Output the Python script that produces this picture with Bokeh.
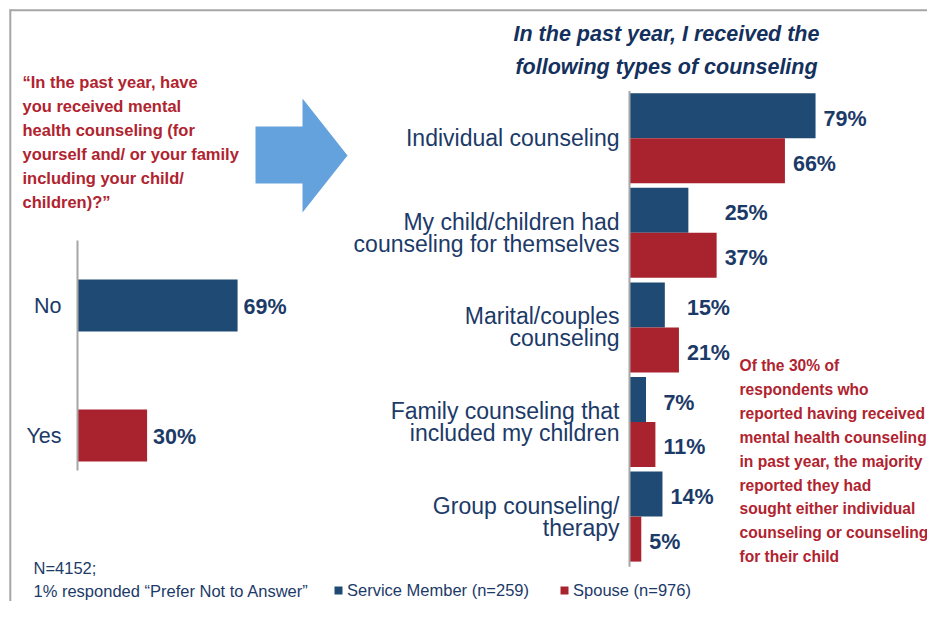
from bokeh.plotting import figure
from bokeh.models import Range1d, ColumnDataSource, Legend, LegendItem
from bokeh.core.properties import value
from bokeh.embed import file_html
from bokeh.resources import INLINE

# ---------------- data ----------------
answers = ["No", "Yes"]
answer_pct = [69, 30]

counsel_types = [
    "Individual counseling",
    "My child/children had\ncounseling for themselves",
    "Marital/couples\ncounseling",
    "Family counseling that\nincluded my children",
    "Group counseling/\ntherapy",
]
service_member = [79, 25, 15, 7, 14]
spouse = [66, 37, 21, 11, 5]
series_names = ["Service Member (n=259)", "Spouse (n=976)"]

question_lines = [
    "\u201cIn the past year, have",
    "you received mental",
    "health counseling (for",
    "yourself and/ or your family",
    "including your child/",
    "children)?\u201d",
]
title_lines = ["In the past year, I received the", "following types of counseling"]
note_lines = [
    "Of the 30% of",
    "respondents who",
    "reported having received",
    "mental health counseling",
    "in past year, the majority",
    "reported they had",
    "sought either  individual",
    "counseling or counseling",
    "for their child",
]
footer_lines = ["N=4152;", "1% responded \u201cPrefer Not to Answer\u201d"]

# ---------------- style ----------------
BLUE = "#1F4A73"
RED = "#A9232F"
NAVY = "#1C3A68"
TITLE_NAVY = "#14305C"
TEXT_RED = "#B0232F"
ARROW = "#64A2DD"
GRAY = "#A6A6A6"
SANS = "Liberation Sans"

W, H = 927, 601

p = figure(width=W, height=H, x_range=Range1d(0, W), y_range=Range1d(H, 0),
           x_axis_type=None, y_axis_type=None, output_backend="svg",
           toolbar_location=None, min_border=0)
p.grid.visible = False
p.outline_line_color = None
p.background_fill_color = "white"
p.border_fill_color = "white"

# scales for the two charts (value -> pixel mapping via extra ranges)
L_X0, L_PPU, L_Y0, L_PITCH = 77, 2.32, 305, 130.0
R_X0, R_PPU, R_Y0, R_PITCH = 629, 2.355, 137.7, 94.6
p.extra_x_ranges = {
    "left": Range1d(-L_X0 / L_PPU, (W - L_X0) / L_PPU),
    "right": Range1d(-R_X0 / R_PPU, (W - R_X0) / R_PPU),
}
p.extra_y_ranges = {
    "left": Range1d((H - L_Y0) / L_PITCH, -L_Y0 / L_PITCH),
    "right": Range1d((H - R_Y0) / R_PITCH, -R_Y0 / R_PITCH),
}

# frame border lines (top and left)
p.segment(x0=[9], y0=[9.8], x1=[W], y1=[9.8], line_color=GRAY, line_width=2)
p.segment(x0=[9.8], y0=[9], x1=[9.8], y1=[H], line_color=GRAY, line_width=2)

# ---------------- question text ----------------
p.text(x=[22] * len(question_lines), y=[81.7 + 24 * i for i in range(len(question_lines))],
       text=question_lines, text_font=value(SANS), text_font_style="bold",
       text_font_size="16.5px", text_color=TEXT_RED, text_baseline="middle", text_align="left")

# ---------------- arrow ----------------
arrow_x = [255, 302, 302, 347, 302, 302, 255]
arrow_y = [126, 126, 98, 155, 212, 183, 183]
p.patch(x=arrow_x, y=arrow_y, fill_color=ARROW, line_color=None)

# ---------------- left chart ----------------
lsrc = ColumnDataSource(dict(
    y=list(range(len(answers))), pct=answer_pct, cat=answers,
    label=[f"{v}%" for v in answer_pct], color=[BLUE, RED]))
p.hbar(y="y", left=0, right="pct", height=0.4, fill_color="color", line_color=None,
       source=lsrc, x_range_name="left", y_range_name="left")
p.segment(x0=[0], y0=[-0.5], x1=[0], y1=[1.27], line_color=GRAY, line_width=2,
          x_range_name="left", y_range_name="left")
p.text(x=0, y="y", text="cat", x_offset=-16, text_align="right", text_baseline="middle",
       text_font=value(SANS), text_font_size="21.5px", text_color=NAVY,
       source=lsrc, x_range_name="left", y_range_name="left")
p.text(x="pct", y="y", text="label", x_offset=6, y_offset=1, text_align="left", text_baseline="middle",
       text_font=value(SANS), text_font_style="bold", text_font_size="21.5px", text_color=NAVY,
       source=lsrc, x_range_name="left", y_range_name="left")

# ---------------- right chart ----------------
p.text(x=[666] * 2, y=[33, 66], text=title_lines, text_font=value(SANS),
       text_font_style="bold italic", text_font_size="21.5px", text_color=TITLE_NAVY,
       text_align="center", text_baseline="middle")

DODGE, BAR_H = 0.2378, 0.4757
n = len(counsel_types)
bsrc = ColumnDataSource(dict(
    y=[i - DODGE for i in range(n)], v=service_member,
    lx=[max(a, b) for a, b in zip(service_member, spouse)],
    label=[f"{v}%" for v in service_member]))
rsrc = ColumnDataSource(dict(
    y=[i + DODGE for i in range(n)], v=spouse, lx=spouse,
    label=[f"{v}%" for v in spouse]))
rb = p.hbar(y="y", left=0, right="v", height=BAR_H, fill_color=BLUE, line_color=None,
            source=bsrc, x_range_name="right", y_range_name="right")
rr = p.hbar(y="y", left=0, right="v", height=BAR_H, fill_color=RED, line_color=None,
            source=rsrc, x_range_name="right", y_range_name="right")
for src in (bsrc, rsrc):
    p.text(x="lx", y="y", text="label", x_offset=8, y_offset=3, text_align="left",
           text_baseline="middle", text_font=value(SANS), text_font_style="bold",
           text_font_size="21.5px", text_color=NAVY,
           source=src, x_range_name="right", y_range_name="right")
p.segment(x0=[0], y0=[-0.5], x1=[0], y1=[4.53], line_color=GRAY, line_width=2,
          x_range_name="right", y_range_name="right")

cy, cyo, ctxt = [], [], []
for i, cat in enumerate(counsel_types):
    parts = cat.split("\n")
    for j, line in enumerate(parts):
        cy.append(i)
        cyo.append((j - (len(parts) - 1) / 2) * 22)
        ctxt.append(line)
csrc = ColumnDataSource(dict(y=cy, yo=cyo, text=ctxt))
p.text(x=0, y="y", y_offset="yo", text="text", x_offset=-10, text_align="right",
       text_baseline="middle", text_font=value(SANS), text_font_size="23px", text_color=NAVY,
       source=csrc, x_range_name="right", y_range_name="right")

# ---------------- note text ----------------
p.text(x=[739] * len(note_lines), y=[365 + 23.9 * i for i in range(len(note_lines))],
       text=note_lines, text_font=value(SANS), text_font_style="bold",
       text_font_size="15.6px", text_color=TEXT_RED, text_baseline="middle", text_align="left")

# ---------------- footer ----------------
p.text(x=[33] * 2, y=[567, 590], text=footer_lines, text_font=value(SANS),
       text_font_size="16.5px", text_color=NAVY, text_baseline="middle", text_align="left")

legend = Legend(items=[LegendItem(label=series_names[0], renderers=[rb]),
                       LegendItem(label=series_names[1], renderers=[rr])],
                orientation="horizontal", location=(333, 1),
                glyph_width=10, glyph_height=10, label_standoff=4, spacing=30,
                padding=0, margin=0, border_line_color=None, background_fill_alpha=0,
                label_text_font=SANS, label_text_font_size="16.5px",
                label_text_color=NAVY, label_height=20)
p.add_layout(legend)

open("out.html", "w").write(file_html(p, INLINE))
